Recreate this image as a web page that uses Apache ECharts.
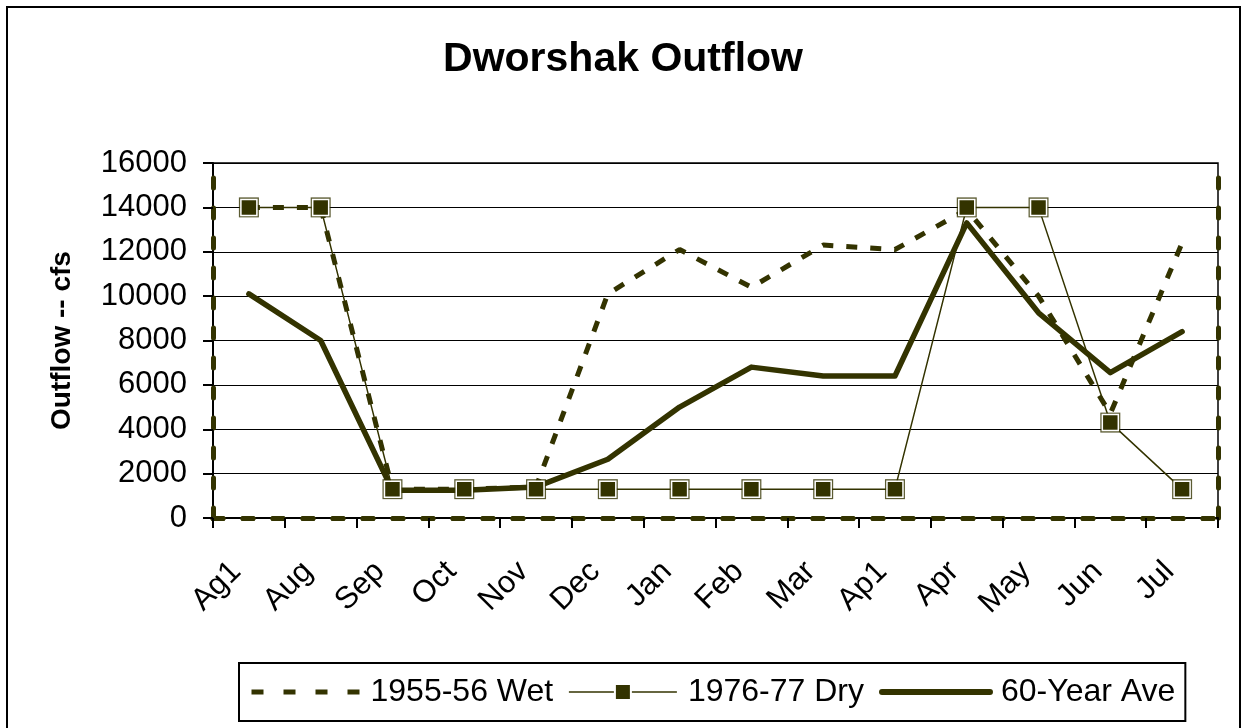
<!DOCTYPE html>
<html>
<head>
<meta charset="utf-8">
<script src="https://cdn.jsdelivr.net/npm/echarts@6/dist/echarts.min.js"></script>
<style>
html, body { margin: 0; padding: 0; background: #fff; }
#chart { width: 1246px; height: 728px; }
</style>
</head>
<body>
<div id="chart"></div>
<script>
// categories and series
var months = ['Ag1', 'Aug', 'Sep', 'Oct', 'Nov', 'Dec', 'Jan', 'Feb', 'Mar', 'Ap1', 'Apr', 'May', 'Jun', 'Jul'];
var wet = [14000, 14000, 1300, 1300, 1400, 10100, 12100, 10400, 12300, 12100, 13900, 10000, 4700, 12400];
var dry = [14000, 14000, 1300, 1300, 1300, 1300, 1300, 1300, 1300, 1300, 14000, 14000, 4300, 1300];
var ave = [10100, 8000, 1250, 1250, 1400, 2650, 5000, 6800, 6400, 6400, 13300, 9250, 6550, 8400];
var seriesNames = ['1955-56 Wet', '1976-77 Dry', '60-Year Ave'];

var olive = '#333300';
var font = 'Liberation Sans, Arial, sans-serif';

var chart = echarts.init(document.getElementById('chart'));

// dashed olive frame drawn as extra axis lines
function frameX(pos) {
    return {
        type: 'category', data: months, position: pos, offset: 0,
        axisLine: { show: true, lineStyle: { color: olive, width: 5, type: [10, 20] } },
        axisTick: { show: false }, axisLabel: { show: false }, splitLine: { show: false }
    };
}
function frameY(pos) {
    return {
        type: 'value', min: 0, max: 16000, interval: 2000, position: pos, offset: 0,
        axisLine: { show: true, lineStyle: { color: olive, width: 5, type: [10, 20] } },
        axisTick: { show: false }, axisLabel: { show: false }, splitLine: { show: false }
    };
}

var option = {
    backgroundColor: '#fff',
    animation: false,
    title: {
        text: 'Dworshak Outflow',
        left: 'center',
        top: 34,
        textStyle: { fontFamily: font, fontSize: 41, fontWeight: 'bold', color: '#000' }
    },
    graphic: [{
        type: 'rect',
        shape: { x: 7, y: 7, width: 1233, height: 740 },
        style: { fill: 'none', stroke: '#000', lineWidth: 2 },
        silent: true
    }],
    legend: {
        data: [{
            name: seriesNames[0],
            itemStyle: { opacity: 0 },
            lineStyle: { width: 5, type: [12, 20] }
        }, {
            name: seriesNames[1],
            lineStyle: { width: 1.5 }
        }, {
            name: seriesNames[2],
            itemStyle: { opacity: 0 },
            lineStyle: { width: 6, cap: 'round' }
        }],
        left: 239,
        top: 663,
        padding: [13, 10, 13, 10],
        borderColor: '#000',
        borderWidth: 2,
        itemWidth: 108,
        itemHeight: 20,
        itemGap: 15,
        textStyle: { fontFamily: font, fontSize: 32, color: '#000', padding: [0, 0, 0, 6] }
    },
    grid: {
        left: 213, right: 28, top: 163, bottom: 210,
        show: true, borderColor: '#000', borderWidth: 1.5
    },
    xAxis: [{
        type: 'category',
        data: months,
        position: 'bottom',
        axisLine: { lineStyle: { color: '#000', width: 2 } },
        axisTick: { show: true, length: 10, lineStyle: { color: '#000', width: 2 } },
        axisLabel: {
            interval: 0, rotate: 45, margin: 36, color: '#000',
            fontFamily: font, fontSize: 31, padding: [0, 18, 0, 0]
        }
    }, frameX('top'), frameX('bottom')],
    yAxis: [{
        type: 'value',
        min: 0, max: 16000, interval: 2000,
        name: 'Outflow -- cfs',
        nameLocation: 'middle',
        nameGap: 137,
        nameTextStyle: { fontFamily: font, fontSize: 28, fontWeight: 'bold', color: '#000' },
        axisLine: { show: true, lineStyle: { color: '#000', width: 2 } },
        axisTick: { show: true, length: 10, lineStyle: { color: '#000', width: 2 } },
        axisLabel: {
            margin: 26, color: '#000', fontFamily: font, fontSize: 31,
            formatter: function (v) { return String(v); }
        },
        splitLine: { show: true, lineStyle: { color: '#000', width: 1.2 } }
    }, frameY('right'), frameY('left')],
    series: [{
        name: '1955-56 Wet',
        type: 'line',
        data: wet,
        symbol: 'none',
        z: 2,
        itemStyle: { color: olive },
        lineStyle: { color: olive, width: 5, type: [11, 13] }
    }, {
        name: '60-Year Ave',
        type: 'line',
        data: ave,
        symbol: 'none',
        z: 3,
        itemStyle: { color: olive },
        lineStyle: { color: olive, width: 5.5, cap: 'round', join: 'round' }
    }, {
        // dark outline behind the dry markers
        name: 'dry-outline',
        type: 'scatter',
        data: dry,
        symbol: 'rect',
        symbolSize: 20,
        silent: true,
        z: 4,
        itemStyle: { color: olive }
    }, {
        name: '1976-77 Dry',
        type: 'line',
        data: dry,
        symbol: 'rect',
        symbolSize: 16,
        z: 5,
        itemStyle: { color: olive, borderColor: '#fff', borderWidth: 1.5 },
        lineStyle: { color: olive, width: 1.5 }
    }]
};

chart.setOption(option);
</script>
</body>
</html>
